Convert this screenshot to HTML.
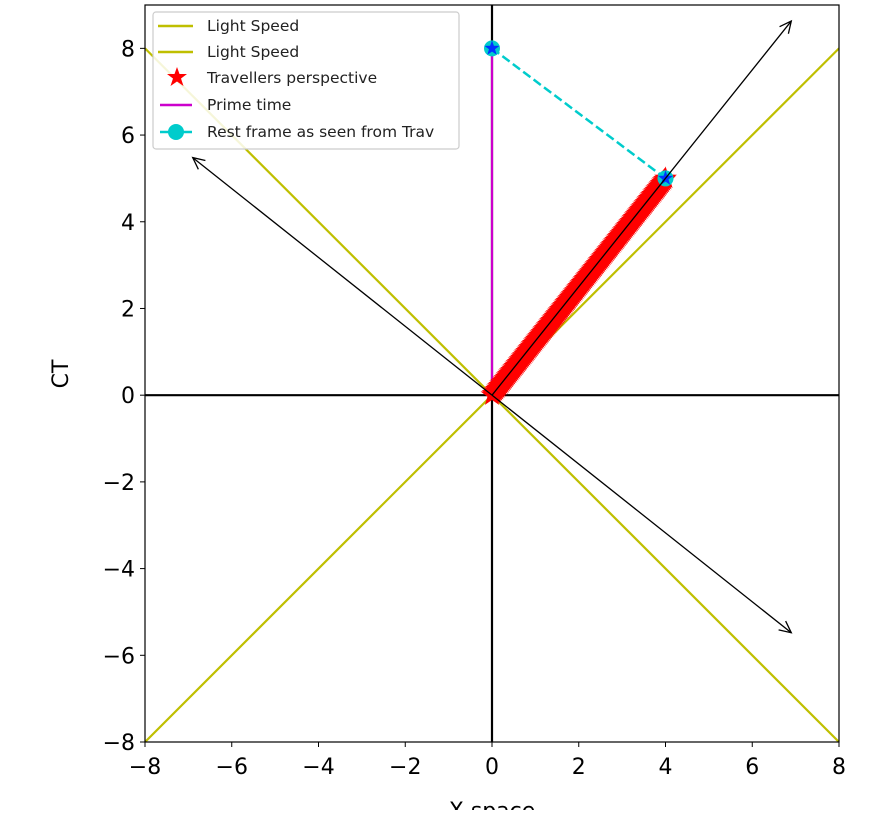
<!DOCTYPE html>
<html><head><meta charset="utf-8"><style>
body{margin:0;background:#fff}
svg text{font-family:"DejaVu Sans","Liberation Sans",sans-serif}
</style></head><body>
<svg id="chart" width="878" height="810" xmlns="http://www.w3.org/2000/svg">
<g id="plot"></g>
<text x="492" y="818" text-anchor="middle" font-size="22">X space</text>
<text transform="translate(68,374) rotate(-90)" text-anchor="middle" font-size="22">CT</text>
<g>
<rect x="153" y="12" width="306" height="137" rx="3" fill="#fff" fill-opacity="0.85" stroke="#ccc" stroke-width="1.2"/>
<line x1="158" y1="26" x2="193" y2="26" stroke="#bfbf00" stroke-width="2.5"/>
<text x="207" y="31" font-size="15.5" fill="#222">Light Speed</text>
<line x1="158" y1="52" x2="193" y2="52" stroke="#bfbf00" stroke-width="2.5"/>
<text x="207" y="57" font-size="15.5" fill="#222">Light Speed</text>
<polygon points="177,67 179.5,74 187,74 181,78.5 183.5,86 177,81.5 170.5,86 173,78.5 167,74 174.5,74" fill="#f00"/>
<text x="207" y="83" font-size="15.5" fill="#222">Travellers perspective</text>
<line x1="160" y1="105" x2="192" y2="105" stroke="#cc00cc" stroke-width="2.5"/>
<text x="207" y="110" font-size="15.5" fill="#222">Prime time</text>
<line x1="160" y1="132" x2="192" y2="132" stroke="#00cccc" stroke-width="2.5"/>
<circle cx="176" cy="132" r="8" fill="#00cccc"/>
<text x="207" y="137" font-size="15.5" fill="#222">Rest frame as seen from Trav</text>
</g>
</svg>
<script>
const xTicks=[-8,-6,-4,-2,0,2,4,6,8];
const yTicks=[-8,-6,-4,-2,0,2,4,6,8];
const lightX=[-8,8];
const light1Y=[-8,8];
const light2Y=[8,-8];
const travX=[0,0.2,0.4,0.6,0.8,1,1.2,1.4,1.6,1.8,2,2.2,2.4,2.6,2.8,3,3.2,3.4,3.6,3.8,4];
const travY=[0,0.25,0.5,0.75,1,1.25,1.5,1.75,2,2.25,2.5,2.75,3,3.25,3.5,3.75,4,4.25,4.5,4.75,5];
const primeX=[0,0];
const primeY=[0,8];
const restX=[0,4];
const restY=[8,5];
const arrowEndX=[6.9,-6.9,6.9];
const arrowEndY=[8.63,5.48,-5.48];
const X0=145,X1=839,Y0=742,Y1=5,xmin=-8,xmax=8,ymin=-8,ymax=9;
const sx=v=>X0+(v-xmin)/(xmax-xmin)*(X1-X0);
const sy=v=>Y0-(v-ymin)/(ymax-ymin)*(Y0-Y1);
const NS="http://www.w3.org/2000/svg";
const g=document.getElementById('plot');
function mk(t,a,p){const e=document.createElementNS(NS,t);for(const k in a)e.setAttribute(k,a[k]);(p||g).appendChild(e);return e;}
const cp=mk('clipPath',{id:'c'});mk('rect',{x:X0,y:Y1,width:X1-X0,height:Y0-Y1},cp);
const clip=mk('g',{'clip-path':'url(#c)'});
function starPts(cx,cy,r){let s=[];for(let i=0;i<10;i++){const a=-Math.PI/2+i*Math.PI/5;const rr=i%2?r*0.4:r;s.push((cx+rr*Math.cos(a)).toFixed(1)+','+(cy+rr*Math.sin(a)).toFixed(1));}return s.join(' ');}
let l;
l=mk('line',{x1:sx(lightX[0]),y1:sy(light1Y[0]),x2:sx(lightX[1]),y2:sy(light1Y[1]),stroke:'#bfbf00','stroke-width':2.2},clip);


l=mk('line',{x1:sx(lightX[0]),y1:sy(light2Y[0]),x2:sx(lightX[1]),y2:sy(light2Y[1]),stroke:'#bfbf00','stroke-width':2.2},clip);


l=mk('line',{x1:X0,y1:sy(0),x2:X1,y2:sy(0),stroke:'#000','stroke-width':2.2},clip);


l=mk('line',{x1:sx(0),y1:Y1,x2:sx(0),y2:Y0,stroke:'#000','stroke-width':2.2},clip);


l=mk('line',{x1:sx(primeX[0]),y1:sy(primeY[0]),x2:sx(primeX[1]),y2:sy(primeY[1]),stroke:'#cc00cc','stroke-width':2.2},clip);


for(let i=0;i<travX.length-1;i++){
 for(let k=0;k<8;k++){const f=k/8;const px=travX[i]+(travX[i+1]-travX[i])*f,py=travY[i]+(travY[i+1]-travY[i])*f;
 const s=mk('polygon',{points:starPts(sx(px),sy(py),12),fill:'#ff0000'},clip);
 
 }
}
const last=travX.length-1;
l=mk('polygon',{points:starPts(sx(travX[last]),sy(travY[last]),12),fill:'#ff0000'},clip);


l=mk('line',{x1:sx(restX[0]),y1:sy(restY[0]),x2:sx(restX[1]),y2:sy(restY[1]),stroke:'#00cccc','stroke-width':2.5,'stroke-dasharray':'9,4'},clip);


for(let i=0;i<restX.length;i++){
 l=mk('circle',{cx:sx(restX[i]),cy:sy(restY[i]),r:8,fill:'#00cccc'},clip);
 
 
 l=mk('polygon',{points:starPts(sx(restX[i]),sy(restY[i]),8),fill:'#0033ff'},clip);
 
 
}
for(let i=0;i<arrowEndX.length;i++){
 const x2=sx(arrowEndX[i]),y2=sy(arrowEndY[i]),x1=sx(0),y1=sy(0);
 l=mk('line',{x1,y1,x2,y2,stroke:'#000','stroke-width':1.3});
 
 
 const a=Math.atan2(y2-y1,x2-x1),h=13;
 const p=`M${x2-h*Math.cos(a-0.45)},${y2-h*Math.sin(a-0.45)} L${x2},${y2} L${x2-h*Math.cos(a+0.45)},${y2-h*Math.sin(a+0.45)}`;
 l=mk('path',{d:p,stroke:'#000','stroke-width':1.3,fill:'none'});
 
 
}
l=mk('rect',{x:X0,y:Y1,width:X1-X0,height:Y0-Y1,fill:'none',stroke:'#000','stroke-width':1.2});


xTicks.forEach(v=>{
 mk('line',{x1:sx(v),y1:Y0,x2:sx(v),y2:Y0+5,stroke:'#000'});
 const t=mk('text',{x:sx(v),y:Y0+32,'text-anchor':'middle','font-size':22,fill:'#000'});
 t.textContent=(v<0?'\u2212'+(-v):v);
 
 
});
yTicks.forEach(v=>{
 mk('line',{x1:X0-5,y1:sy(v),x2:X0,y2:sy(v),stroke:'#000'});
 const t=mk('text',{x:X0-10,y:sy(v)+8,'text-anchor':'end','font-size':22,fill:'#000'});
 t.textContent=(v<0?'\u2212'+(-v):v);
 
 
});
</script>
</body></html>
